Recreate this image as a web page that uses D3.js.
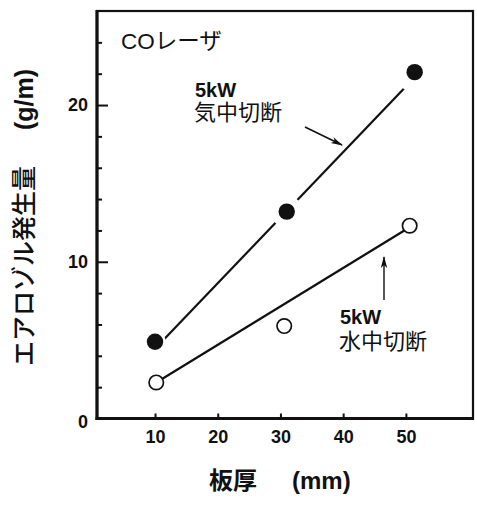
<!DOCTYPE html>
<html>
<head>
<meta charset="utf-8">
<script src="https://cdn.jsdelivr.net/npm/d3@7"></script>
<style>
  html, body { margin: 0; padding: 0; background: #fff; }
  svg { display: block; }
</style>
</head>
<body>
<svg id="chart" width="477" height="505"></svg>
<script>
// ---- data ----
const airX = [10, 31, 51.4];          // 5kW 気中切断 (filled)
const airY = [4.9, 13.2, 22.1];
const waterX = [10.2, 30.6, 50.6];    // 5kW 水中切断 (open)
const waterY = [2.3, 5.9, 12.3];
const airFitX = [10, 51];             // fitted line, air cutting
const airFitY = [4.45, 21.6];
const waterFitX = [10.2, 50.6];       // fitted line, underwater cutting
const waterFitY = [2.3, 12.2];
const xTicks = [10, 20, 30, 40, 50];
const yMajorTicks = [0, 10, 20];
const yMinorTicks = [2, 4, 6, 8, 12, 14, 16, 18, 22, 24];

// ---- layout ----
const svg = d3.select("#chart");
const L = 97, R = 473, T = 11, B = 418.5;
const x = d3.scaleLinear().domain([0.75, 60.7]).range([L, R]);
const y = d3.scaleLinear().domain([0, 26]).range([B, T]);
const latin = "'Liberation Sans', Arial, Helvetica, sans-serif";
const cjk = "'Liberation Sans', 'Noto Sans CJK JP', sans-serif";

// axes (ticks inward)
const gy = svg.append("g").attr("transform", `translate(${L},0)`)
  .call(d3.axisLeft(y).tickValues(yMajorTicks).tickSize(-11).tickPadding(9).tickFormat(d3.format("d")));
const gy2 = svg.append("g").attr("transform", `translate(${L},0)`)
  .call(d3.axisLeft(y).tickValues(yMinorTicks).tickSize(-5).tickFormat(""));
const gx = svg.append("g").attr("transform", `translate(0,${B})`)
  .call(d3.axisBottom(x).tickValues(xTicks).tickSize(-5).tickPadding(12).tickFormat(d3.format("d")));
[gy, gy2, gx].forEach(g => {
  g.select(".domain").remove();
  g.selectAll(".tick line").attr("stroke", "#111").attr("stroke-width", 2);
  g.selectAll(".tick text").attr("fill", "#111").style("font-family", latin)
    .style("font-size", "18px").style("font-weight", "bold");
});
gy.selectAll(".tick").filter(d => d === 0).select("line").remove();
gy.selectAll(".tick").filter(d => d === 0).select("text").attr("dy", "0.5em");

// frame
svg.append("rect").attr("x", L).attr("y", T).attr("width", R - L).attr("height", B - T)
  .attr("fill", "none").attr("stroke", "#111").attr("stroke-width", 2.2);
svg.append("line").attr("x1", L).attr("x2", L).attr("y1", T - 1).attr("y2", B + 1.5)
  .attr("stroke", "#111").attr("stroke-width", 3.2);
svg.append("line").attr("x1", L - 1.5).attr("x2", R + 1).attr("y1", B).attr("y2", B)
  .attr("stroke", "#111").attr("stroke-width", 3.2);

// fitted lines
const line = d3.line().x(d => x(d[0])).y(d => y(d[1]));
svg.append("path").datum(d3.zip(airFitX, airFitY)).attr("d", line)
  .attr("fill", "none").attr("stroke", "#111").attr("stroke-width", 2.2);
svg.append("path").datum(d3.zip(waterFitX, waterFitY)).attr("d", line)
  .attr("fill", "none").attr("stroke", "#111").attr("stroke-width", 2.2);

// white gaps around filled markers
const haloR = [10.6, 16, 20];
svg.append("g").selectAll("circle").data(d3.zip(airX, airY)).join("circle")
  .attr("cx", d => x(d[0])).attr("cy", d => y(d[1])).attr("r", (d, i) => haloR[i])
  .attr("fill", "#fff");

// markers
svg.append("g").selectAll("circle").data(d3.zip(airX, airY)).join("circle")
  .attr("cx", d => x(d[0])).attr("cy", d => y(d[1])).attr("r", 8.2).attr("fill", "#111");
svg.append("g").selectAll("circle").data(d3.zip(waterX, waterY)).join("circle")
  .attr("cx", d => x(d[0])).attr("cy", d => y(d[1])).attr("r", 7.2)
  .attr("fill", "#fff").attr("stroke", "#111").attr("stroke-width", 1.7);

// arrowhead
svg.append("defs").append("marker").attr("id", "ah")
  .attr("viewBox", "0 0 12 8").attr("refX", 11).attr("refY", 4)
  .attr("markerWidth", 12).attr("markerHeight", 8).attr("markerUnits", "userSpaceOnUse")
  .attr("orient", "auto")
  .append("path").attr("d", "M0,0.8 L12,4 L0,7.2 L3,4 Z").attr("fill", "#111");

svg.append("line").attr("x1", 305).attr("y1", 127).attr("x2", 342).attr("y2", 145)
  .attr("stroke", "#111").attr("stroke-width", 1.6).attr("marker-end", "url(#ah)");
svg.append("line").attr("x1", 384).attr("y1", 300).attr("x2", 384).attr("y2", 257)
  .attr("stroke", "#111").attr("stroke-width", 1.4).attr("marker-end", "url(#ah)");

// annotations
function txt(str, px, py, size, weight) {
  return svg.append("text").attr("x", px).attr("y", py).text(str)
    .attr("fill", "#111").style("font-family", cjk)
    .style("font-size", size + "px").style("font-weight", weight);
}
txt("COレーザ", 121, 49, 22.5, "normal");
txt("5kW", 195, 96.5, 20, "bold");
txt("気中切断", 194, 120, 22, "normal");
txt("5kW", 340, 324, 20, "bold");
txt("水中切断", 339, 349, 22, "normal");

// axis titles
const xt = svg.append("text").attr("x", 209).attr("y", 489).attr("fill", "#111")
  .style("font-family", cjk).style("font-size", "24px").style("font-weight", "bold");
xt.append("tspan").text("板厚");
xt.append("tspan").attr("dx", 35).text("(mm)");

const yt = svg.append("text").attr("transform", "translate(33,366) rotate(-90)").attr("fill", "#111")
  .style("font-family", cjk).style("font-size", "25px").style("font-weight", "500");
yt.append("tspan").text("エアロゾル発生量");
yt.append("tspan").attr("dx", 36).style("font-weight", "bold").text("(g/m)");
</script>
</body>
</html>
